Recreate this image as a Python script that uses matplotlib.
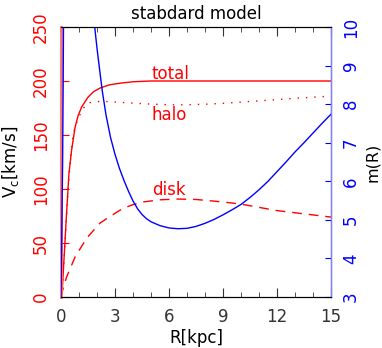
import numpy as np
import matplotlib
matplotlib.use("Agg")
import matplotlib.pyplot as plt
from matplotlib.ticker import MultipleLocator

# --- data ---
r_total = [0.0, 0.07, 0.2, 0.3, 0.44, 0.59, 0.78, 0.95, 1.15, 1.5, 1.8, 2.17,
           2.7, 3.3, 4.0, 5.0, 6.0, 8.0, 10.0, 12.0, 15.0]
v_total = [0.0, 6, 45, 75, 114, 136, 157, 168, 176, 185, 190, 193.5,
           196.5, 198, 199.3, 200, 200, 200, 200, 200, 200]

r_halo = [0.0, 0.07, 0.2, 0.3, 0.44, 0.55, 0.69, 0.92, 1.2, 1.5, 1.9, 2.5, 3.0,
          4.0, 5.0, 6.0, 7.0, 8.0, 9.0, 10.0, 11.0, 12.0, 13.0, 14.0, 15.0]
v_halo = [0.0, 6, 44, 73, 110, 133, 152, 164, 174, 179.5, 181, 181, 180.5,
          179.5, 178.6, 178, 178, 178.5, 179.3, 180.5, 181.6, 182.8, 184, 185, 186]

r_disk = [0.0, 0.1, 0.31, 0.78, 1.43, 2.17, 3.0, 3.44, 4.0, 4.56, 5.5, 6.5,
          7.5, 9.0, 10.0, 11.0, 12.0, 13.5, 15.0]
v_disk = [0.0, 7, 18.5, 37, 54.6, 68.5, 77.5, 82, 85.5, 88, 90, 90.7,
          90.3, 88, 86, 83, 80, 77, 74]

r_m = [0.0, 0.04, 0.09, 0.12, 0.14, 0.16, 1.5, 1.6, 1.7, 1.8, 1.9, 2.0, 2.17,
       2.3, 2.5, 2.75, 3.0, 3.25, 3.5, 3.75, 4.0, 4.25, 4.5, 4.75, 5.0, 5.5,
       6.0, 6.5, 7.0, 7.5, 8.0, 8.5, 9.0, 9.5, 10.0, 10.5, 11.0, 11.5, 12.0,
       12.5, 13.0, 13.5, 14.0, 14.5, 15.0]
m_r = [3.0, 4.5, 6.5, 8.5, 10.2, 12.0, 12.0, 11.4, 10.85, 10.35, 9.88, 9.45,
       8.8, 8.32, 7.72, 7.14, 6.7, 6.33, 6.02, 5.74, 5.49, 5.29, 5.14, 5.03,
       4.95, 4.85, 4.79, 4.77, 4.78, 4.83, 4.91, 5.01, 5.13, 5.26, 5.40, 5.58,
       5.78, 6.0, 6.25, 6.5, 6.76, 7.0, 7.25, 7.5, 7.74]

red = "#ff0000"
blue = "#0000ff"

fig = plt.figure(figsize=(3.82, 3.48), dpi=100)
ax = fig.add_axes([61 / 382, 51 / 348, 270 / 382, 270 / 348])
ax2 = ax.twinx()

ax.plot(r_total, v_total, color=red, lw=1.0)
ax.plot(r_halo, v_halo, color=red, lw=1.0, linestyle=(0, (1, 5)))
ax.plot(r_disk, v_disk, color=red, lw=1.0, linestyle=(0, (7, 5)))
ax2.plot(r_m, m_r, color=blue, lw=1.0)

ax.text(5.05, 202, "total", color=red, fontsize=12, va="baseline", ha="left")
ax.text(5.05, 164, "halo", color=red, fontsize=12, va="baseline", ha="left")
ax.text(5.05, 94.5, "disk", color=red, fontsize=12, va="baseline", ha="left")

ax.set_xlim(0, 15)
ax.set_ylim(0, 250)
ax2.set_ylim(3, 10)

ax.xaxis.set_major_locator(MultipleLocator(3))
ax.xaxis.set_minor_locator(MultipleLocator(1))
ax.yaxis.set_major_locator(MultipleLocator(50))
ax2.yaxis.set_major_locator(MultipleLocator(1))

ax.tick_params(axis="x", which="both", direction="in", top=True, colors="#333333",
               labelsize=12, pad=8)
ax.tick_params(axis="x", which="major", length=6.5)
ax.tick_params(axis="x", which="minor", length=3.5)
ax.tick_params(axis="y", which="major", direction="in", length=6, color=red,
               labelcolor=red, labelsize=12, pad=8)
ax2.tick_params(axis="y", which="major", direction="in", length=4.5, color=blue,
                labelcolor=blue, labelsize=12, pad=8)
for lab in ax.get_yticklabels():
    lab.set_rotation(90)
    lab.set_va("center")
for lab in ax2.get_yticklabels():
    lab.set_rotation(90)
    lab.set_va("center")

ax.spines["left"].set_color("#ff7070")
ax.spines["left"].set_linewidth(2.0)
ax2.spines["left"].set_visible(False)
ax2.spines["right"].set_color("#8080ff")
ax2.spines["right"].set_linewidth(1.0)
for s in ("top", "bottom"):
    ax.spines[s].set_color("black")
    ax2.spines[s].set_color("black")

ax.set_xlabel("R[kpc]", fontsize=12, labelpad=2)
ax.set_ylabel(r"V$_\mathrm{c}$[km/s]", fontsize=12)
ax.yaxis.set_label_coords(-0.148, 0.5)
ax2.set_ylabel("m(R)", fontsize=11.5)
ax2.yaxis.set_label_coords(1.127, 0.5)
ax.set_title("stabdard model", fontsize=12, pad=6)

fig.savefig("out.png", dpi=100)
